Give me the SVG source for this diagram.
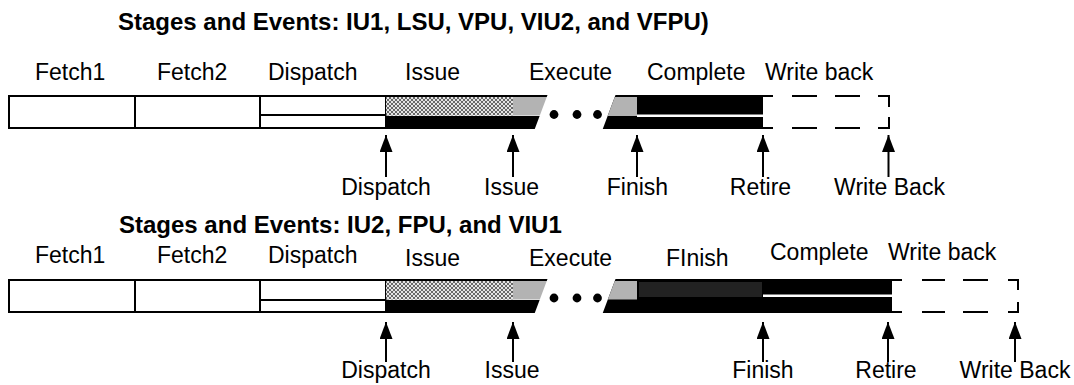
<svg xmlns="http://www.w3.org/2000/svg" width="1074" height="385" viewBox="0 0 1074 385">
<style>
.t{font-family:"Liberation Sans",Arial,Helvetica,sans-serif;font-size:23px;fill:#000}
.h{font-weight:bold;font-size:24px}
.m{text-anchor:middle}
.box{fill:#fff;stroke:#000;stroke-width:2}
.ln{stroke:#000;stroke-width:2;fill:none}
.gray{fill:#b3b3b3}
.blk{fill:#000}
.dk{fill:#222}
.arr{stroke:#000;stroke-width:2;fill:none;marker-end:url(#ah)}
</style>
<defs>
<pattern id="hatch" width="4" height="4" patternUnits="userSpaceOnUse">
<rect width="4" height="4" fill="#e4e4e4"/>
<path d="M0,0 L4,4 M4,0 L0,4" stroke="#5a5a5a" stroke-width="0.9"/>
</pattern>
<marker id="ah" viewBox="0 0 17 13" refX="17" refY="6.5" markerWidth="17" markerHeight="13" markerUnits="userSpaceOnUse" orient="auto">
<path d="M0,0 L17,6.5 L0,13 z" fill="#000"/>
</marker>
</defs>
<rect width="1074" height="385" fill="#fff"/>

<g id="title1"><text class="t h" x="118" y="30">Stages and Events: IU1, LSU, VPU, VIU2, and VFPU)</text></g>
<g id="title2"><text class="t h" x="119" y="233">Stages and Events: IU2, FPU, and VIU1</text></g>

<!-- Row 1 -->
<g id="r1-labels">
<text class="t" x="35" y="80">Fetch1</text>
<text class="t" x="157" y="80">Fetch2</text>
<text class="t" x="268" y="80">Dispatch</text>
<text class="t" x="405" y="80">Issue</text>
<text class="t" x="529" y="80">Execute</text>
<text class="t" x="647" y="80">Complete</text>
<text class="t" x="765" y="80">Write back</text>
</g>
<g id="r1-fetch1"><rect class="box" x="9" y="96" width="126" height="32"/></g>
<g id="r1-fetch2"><rect class="box" x="135" y="96" width="125" height="32"/></g>
<g id="r1-dispatch"><rect class="box" x="260" y="96" width="126" height="32"/><line class="ln" x1="260" y1="115" x2="386" y2="115"/></g>
<g id="r1-issue">
<rect x="386" y="97" width="127" height="18.5" fill="url(#hatch)"/>
<polygon class="blk" points="386,95 547.5,95 546.75,97 386,97"/>
<polygon class="gray" points="513,97 546.75,97 539.8,115.5 513,115.5"/>
<polygon class="blk" points="386,116 539.6,116 534.75,129 386,129"/>
</g>
<g id="r1-dots"><circle cx="554" cy="114.5" r="4.4"/><circle cx="577" cy="114.5" r="4.4"/><circle cx="597.5" cy="114.5" r="4.4"/></g>
<g id="r1-complete">
<polygon class="blk" points="615.5,95 763,95 763,129 602.75,129"/>
<polygon class="gray" points="614.75,97 637,97 637,116 607.6,116"/>
<rect x="637" y="114.5" width="126" height="2.5" fill="#fff"/>
</g>
<g id="r1-writeback">
<path class="ln" d="M763,96H773M792,96H817M835,96H860M878,96H889M763,128H773M792,128H817M835,128H860M878,128H889M889,95V107M889,117V129"/>
</g>

<!-- Row 2 -->
<g id="r2-labels">
<text class="t" x="35" y="263">Fetch1</text>
<text class="t" x="157" y="263">Fetch2</text>
<text class="t" x="268" y="263">Dispatch</text>
<text class="t" x="405" y="265.5">Issue</text>
<text class="t" x="529" y="265.5">Execute</text>
<text class="t" x="666" y="265.5">FInish</text>
<text class="t" x="770" y="260">Complete</text>
<text class="t" x="888" y="260">Write back</text>
</g>
<g id="r2-fetch1"><rect class="box" x="9" y="280" width="126" height="32"/></g>
<g id="r2-fetch2"><rect class="box" x="135" y="280" width="125" height="32"/></g>
<g id="r2-dispatch"><rect class="box" x="260" y="280" width="126" height="32"/><line class="ln" x1="260" y1="300" x2="386" y2="300"/></g>
<g id="r2-issue">
<rect x="386" y="281" width="127" height="18.5" fill="url(#hatch)"/>
<polygon class="blk" points="386,279 547.5,279 546.75,281 386,281"/>
<polygon class="gray" points="513,281 546.75,281 539.8,299.5 513,299.5"/>
<polygon class="blk" points="386,300 539.6,300 534.75,313 386,313"/>
</g>
<g id="r2-dots"><circle cx="554" cy="298" r="4.4"/><circle cx="577" cy="298" r="4.4"/><circle cx="597.5" cy="298" r="4.4"/></g>
<g id="r2-finish-complete">
<polygon class="blk" points="615.5,279 892,279 892,313 602.75,313"/>
<polygon class="gray" points="614.75,281 637,281 637,299.5 607.8,299.5"/>
<rect class="dk" x="639" y="282" width="123" height="15"/>
<rect x="763" y="294.5" width="129" height="2.5" fill="#fff"/>
</g>
<g id="r2-writeback">
<path class="ln" d="M892,280H902M922,280H945M963,280H988M1008,280H1018M892,312H902M922,312H945M963,312H988M1008,312H1018M1018,279V290M1018,302V313"/>
</g>

<!-- Connectors -->
<g id="connectors">
<line class="arr" x1="386" y1="177" x2="386" y2="135"/>
<line class="arr" x1="513" y1="177" x2="513" y2="135"/>
<line class="arr" x1="637" y1="177" x2="637" y2="135"/>
<line class="arr" x1="763" y1="177" x2="763" y2="135"/>
<line class="arr" x1="888.5" y1="177" x2="888.5" y2="135"/>
<line class="arr" x1="386" y1="362" x2="386" y2="322"/>
<line class="arr" x1="513" y1="362" x2="513" y2="322"/>
<line class="arr" x1="763" y1="362" x2="763" y2="322"/>
<line class="arr" x1="888" y1="362" x2="888" y2="322"/>
<line class="arr" x1="1015" y1="362" x2="1015" y2="322"/>
</g>
<g id="event-labels">
<text class="t m" x="386" y="195">Dispatch</text>
<text class="t m" x="511.5" y="195">Issue</text>
<text class="t m" x="637.5" y="195">Finish</text>
<text class="t m" x="760.5" y="195">Retire</text>
<text class="t m" x="889.5" y="195">Write Back</text>
<text class="t m" x="386" y="378">Dispatch</text>
<text class="t m" x="512" y="378">Issue</text>
<text class="t m" x="763" y="378">Finish</text>
<text class="t m" x="886" y="378">Retire</text>
<text class="t m" x="1015" y="378">Write Back</text>
</g>
</svg>
